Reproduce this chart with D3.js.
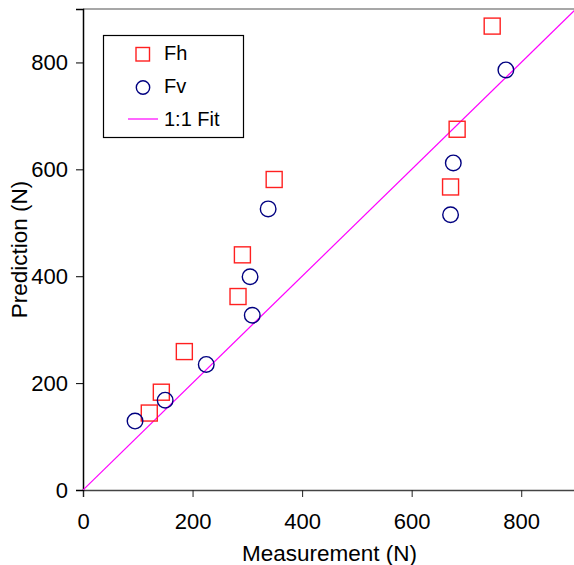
<!DOCTYPE html>
<html>
<head>
<meta charset="utf-8">
<script src="https://cdn.jsdelivr.net/npm/d3@7"></script>
<style>
  body { margin: 0; background: #fff; }
  text { font-family: "Liberation Sans", Arial, sans-serif; }
</style>
</head>
<body>
<div id="chart"></div>
<script>
// measured vs predicted forces (N)
var fh_measured = [121, 143, 185, 283, 291, 349, 671, 683, 747];
var fh_predicted = [144, 183, 259, 362, 440, 581, 567, 675, 868];
var fv_measured = [95, 150, 225, 309, 305, 338, 671, 676, 772];
var fv_predicted = [129, 168, 235, 327, 399, 526, 515, 612, 786];
var fit_line = [0, 900];
var x_ticks = [0, 200, 400, 600, 800];
var y_ticks = [0, 200, 400, 600, 800];
var legend_labels = ["Fh", "Fv", "1:1 Fit"];

const width = 574, height = 565;
const margin = {left: 83, top: 9, right: -2, bottom: 75};
const plot_w = width - margin.left - margin.right;
const plot_h = height - margin.top - margin.bottom;

var svg = d3.select('#chart').append('svg')
  .attr('width', width)
  .attr('height', height);

var x = d3.scaleLinear().domain([0, 900]).range([0, plot_w]);
var y = d3.scaleLinear().domain([0, 900]).range([plot_h, 0]);

var g = svg.append('g')
  .attr('transform', `translate(${margin.left},${margin.top})`);

svg.append('defs').append('clipPath').attr('id', 'clip')
  .append('rect').attr('width', plot_w).attr('height', plot_h);

// top border
g.append('line')
  .attr('x1', 0).attr('x2', plot_w)
  .attr('y1', 0).attr('y2', 0)
  .attr('stroke', '#8a8a8a').attr('stroke-width', 1.5);

// axes
var x_axis = g.append('g')
  .attr('transform', `translate(0,${plot_h})`)
  .call(d3.axisBottom(x).tickValues(x_ticks).tickSizeOuter(0).tickSize(7).tickPadding(16));
x_axis.select('.domain').attr('stroke', '#444').attr('stroke-width', 1.5);
x_axis.selectAll('.tick line').attr('stroke', '#222');

var y_axis = g.append('g')
  .call(d3.axisLeft(y).tickValues(y_ticks).tickSizeOuter(0).tickSize(7).tickPadding(8));
y_axis.select('.domain').attr('stroke', '#000').attr('stroke-width', 1.5);

svg.selectAll('.tick text')
  .style('font-size', '22px')
  .style('font-family', '"Liberation Sans", Arial, sans-serif')
  .attr('fill', '#000');

// axis titles
svg.append('text')
  .attr('x', margin.left + plot_w / 2)
  .attr('y', 561)
  .attr('text-anchor', 'middle')
  .style('font-size', '22.5px')
  .text('Measurement (N)');

svg.append('text')
  .attr('transform', `translate(26.5,${margin.top + plot_h / 2}) rotate(-90)`)
  .attr('text-anchor', 'middle')
  .style('font-size', '22.5px')
  .text('Prediction (N)');

// 1:1 line
g.append('line')
  .attr('clip-path', 'url(#clip)')
  .attr('x1', x(fit_line[0])).attr('y1', y(fit_line[0]))
  .attr('x2', x(fit_line[1])).attr('y2', y(fit_line[1]))
  .attr('stroke', '#ff00ff').attr('stroke-width', 1.2);

// Fh squares
var sq = 16;
g.selectAll('rect.fh').data(fh_measured)
  .enter().append('rect')
  .attr('class', 'fh')
  .attr('x', function(d) { return x(d) - sq / 2; })
  .attr('y', function(d, i) { return y(fh_predicted[i]) - sq / 2; })
  .attr('width', sq).attr('height', sq)
  .attr('fill', 'none').attr('stroke', '#ff2020').attr('stroke-width', 1.4);

// Fv circles
g.selectAll('circle.fv').data(fv_measured)
  .enter().append('circle')
  .attr('class', 'fv')
  .attr('cx', function(d) { return x(d); })
  .attr('cy', function(d, i) { return y(fv_predicted[i]); })
  .attr('r', 7.8)
  .attr('fill', 'none').attr('stroke', '#000080').attr('stroke-width', 1.4);

// legend
var legend = svg.append('g');
legend.append('rect')
  .attr('x', 103.5).attr('y', 35.5)
  .attr('width', 140).attr('height', 102)
  .attr('fill', '#fff').attr('stroke', '#000').attr('stroke-width', 1.2);

legend.append('rect')
  .attr('x', 136).attr('y', 47.5).attr('width', 13.5).attr('height', 13.5)
  .attr('fill', 'none').attr('stroke', '#ff2020').attr('stroke-width', 1.4);
legend.append('circle')
  .attr('cx', 143).attr('cy', 87.5).attr('r', 6.7)
  .attr('fill', 'none').attr('stroke', '#000080').attr('stroke-width', 1.4);
legend.append('line')
  .attr('x1', 128).attr('x2', 158).attr('y1', 119).attr('y2', 119)
  .attr('stroke', '#ff00ff').attr('stroke-width', 1.2);

legend_labels.forEach(function(item, index) {
  legend.append('text')
    .attr('x', 164)
    .attr('y', 60 + index * 33)
    .style('font-size', '20px')
    .text(item);
});
</script>
</body>
</html>
